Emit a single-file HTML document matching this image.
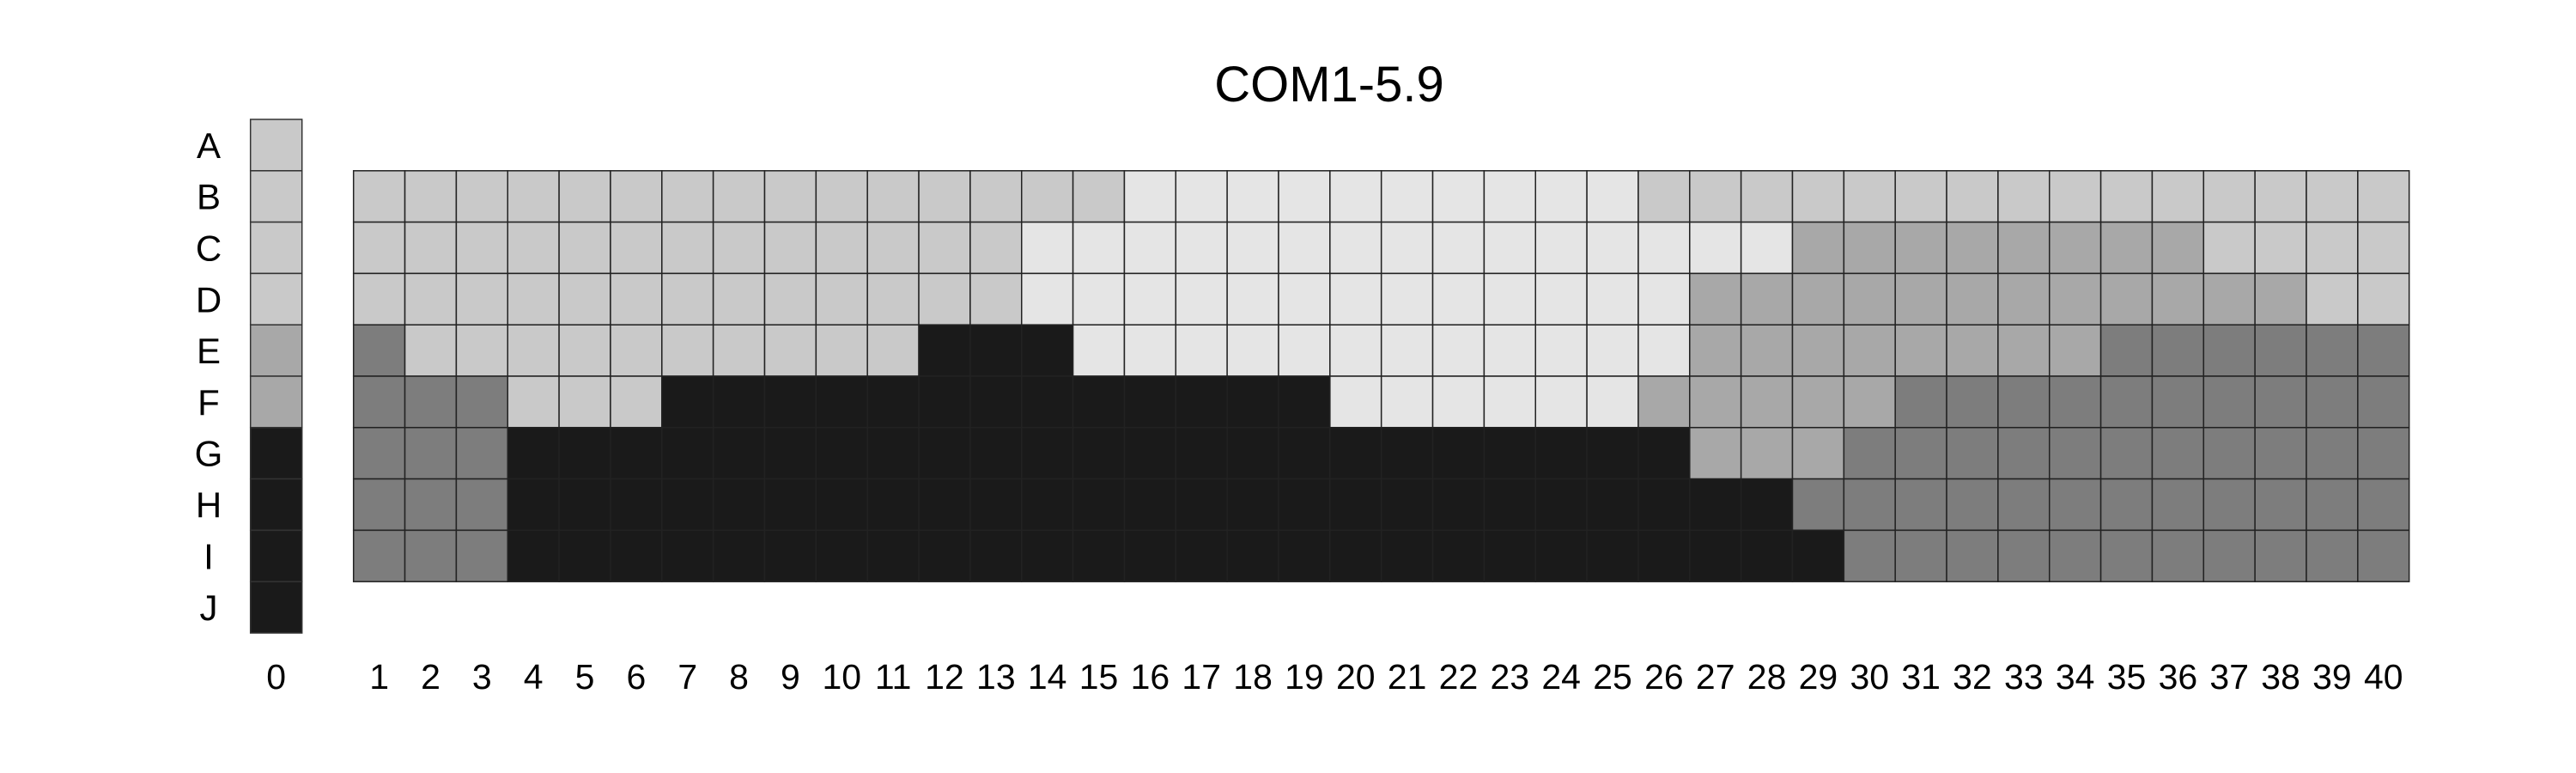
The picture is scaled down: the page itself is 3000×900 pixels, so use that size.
<!DOCTYPE html>
<html><head><meta charset="utf-8"><style>
html,body{margin:0;padding:0;background:#fff;}
svg{display:block;font-family:"Liberation Sans",sans-serif;}
</style></head><body>
<svg id="chart" width="3000" height="900" viewBox="0 0 3000 900" xmlns="http://www.w3.org/2000/svg">
<text x="1548" y="118" font-size="58" text-anchor="middle" fill="#000">COM1-5.9</text>
<g id="col0"></g><g id="grid"></g><g id="rowlabels"></g><g id="collabels"></g>
</svg>
<script>
const rowNames = ["A","B","C","D","E","F","G","H","I","J"];
const colZero = [1,1,1,1,2,2,4,4,4,4];
const colLabels = ["1","2","3","4","5","6","7","8","9","10","11","12","13","14","15","16","17","18","19","20","21","22","23","24","25","26","27","28","29","30","31","32","33","34","35","36","37","38","39","40"];
const rowB = [1,1,1,1,1,1,1,1,1,1,1,1,1,1,1,0,0,0,0,0,0,0,0,0,0,1,1,1,1,1,1,1,1,1,1,1,1,1,1,1];
const rowC = [1,1,1,1,1,1,1,1,1,1,1,1,1,0,0,0,0,0,0,0,0,0,0,0,0,0,0,0,2,2,2,2,2,2,2,2,1,1,1,1];
const rowD = [1,1,1,1,1,1,1,1,1,1,1,1,1,0,0,0,0,0,0,0,0,0,0,0,0,0,2,2,2,2,2,2,2,2,2,2,2,2,1,1];
const rowE = [3,1,1,1,1,1,1,1,1,1,1,4,4,4,0,0,0,0,0,0,0,0,0,0,0,0,2,2,2,2,2,2,2,2,3,3,3,3,3,3];
const rowF = [3,3,3,1,1,1,4,4,4,4,4,4,4,4,4,4,4,4,4,0,0,0,0,0,0,2,2,2,2,2,3,3,3,3,3,3,3,3,3,3];
const rowG = [3,3,3,4,4,4,4,4,4,4,4,4,4,4,4,4,4,4,4,4,4,4,4,4,4,4,2,2,2,3,3,3,3,3,3,3,3,3,3,3];
const rowH = [3,3,3,4,4,4,4,4,4,4,4,4,4,4,4,4,4,4,4,4,4,4,4,4,4,4,4,4,3,3,3,3,3,3,3,3,3,3,3,3];
const rowI = [3,3,3,4,4,4,4,4,4,4,4,4,4,4,4,4,4,4,4,4,4,4,4,4,4,4,4,4,4,3,3,3,3,3,3,3,3,3,3,3];
const gridRows = [rowB,rowC,rowD,rowE,rowF,rowG,rowH,rowI];
const shades = ["#e5e5e5","#c9c9c9","#a8a8a8","#7d7d7d","#1a1a1a"];

const NS="http://www.w3.org/2000/svg";
const top0=139, cellH=59.8, col0X=291.7, col0W=60, gridX=411.7, cellW=59.85;
const yPos = i => top0 + i*cellH;
const xPos = j => gridX + j*cellW;
function mk(tag, attrs){const e=document.createElementNS(NS,tag);for(const k in attrs)e.setAttribute(k,attrs[k]);return e;}

const g0=document.getElementById('col0');
colZero.forEach((v,i)=>{
  const r=mk('rect',{x:col0X,y:yPos(i),width:col0W,height:cellH,fill:shades[v],stroke:'#333','stroke-width':1.5});
  
  
  g0.appendChild(r);
});
const gg=document.getElementById('grid');
gridRows.forEach((row,ri)=>{
  row.forEach((v,j)=>{
    const r=mk('rect',{x:xPos(j),y:yPos(ri+1),width:cellW,height:cellH,fill:shades[v],stroke:'#222','stroke-width':1.5});
    
    
    gg.appendChild(r);
  });
});
const gr=document.getElementById('rowlabels');
rowNames.forEach((n,i)=>{
  const t=mk('text',{x:243,y:yPos(i)+cellH/2+15,'font-size':42,'text-anchor':'middle',fill:'#000'});
  t.textContent=n;
  
  
  gr.appendChild(t);
});
const gc=document.getElementById('collabels');
const t0=mk('text',{x:col0X+col0W/2,y:802,'font-size':41,'text-anchor':'middle',fill:'#000'});
t0.textContent="0";


gc.appendChild(t0);
colLabels.forEach((n,j)=>{
  const t=mk('text',{x:xPos(j)+cellW/2,y:802,'font-size':41,'text-anchor':'middle',fill:'#000'});
  t.textContent=n;
  
  
  gc.appendChild(t);
});
</script>
</body></html>
